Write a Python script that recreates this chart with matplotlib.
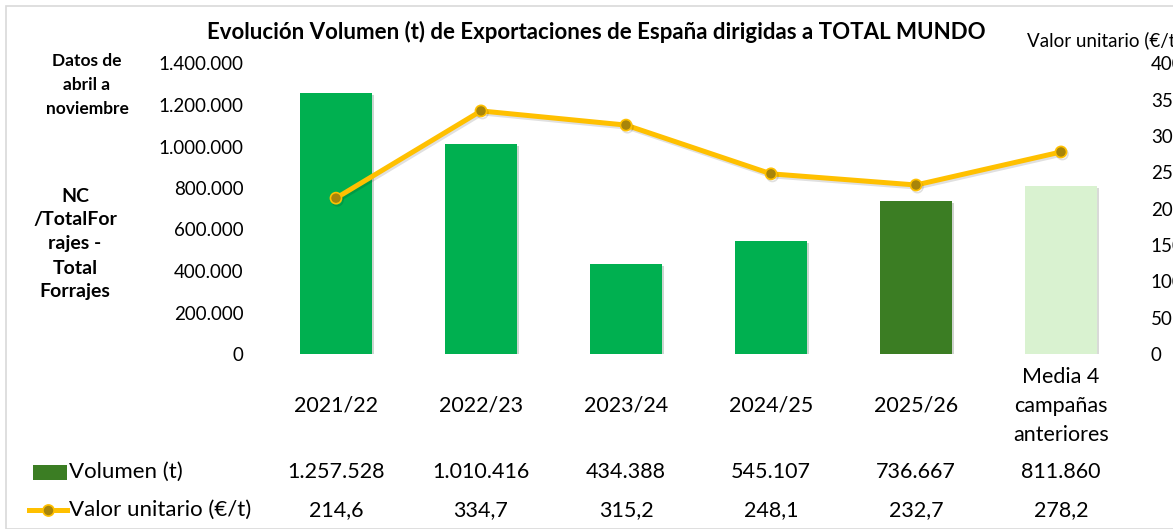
import matplotlib.pyplot as plt
import matplotlib.patheffects as pe
from matplotlib import transforms
from matplotlib.patches import Rectangle
from matplotlib.lines import Line2D
from matplotlib.ticker import FuncFormatter, MultipleLocator

plt.rcParams['font.family'] = ['Lato', 'DejaVu Sans']

categories = ["2021/22", "2022/23", "2023/24", "2024/25", "2025/26",
              "Media 4\ncampañas\nanteriores"]
volumen = [1257528, 1010416, 434388, 545107, 736667, 811860]
valor = [214.6, 334.7, 315.2, 248.1, 232.7, 278.2]

bar_colors = ["#00B050", "#00B050", "#00B050", "#00B050", "#3B7D23", "#D9F2D0"]
line_color = "#FFC000"
marker_color = "#A8850A"


def miles(v):
    return f"{int(v):,}".replace(",", ".")


def decimal(v):
    return f"{v:.1f}".replace(".", ",")


W, H = 1173, 529
fig = plt.figure(figsize=(W / 100, H / 100), dpi=100)

# light frame of the chart object
fig.patches.append(Rectangle((6 / W, 0), 1.2, 1 - 6 / H, transform=fig.transFigure,
                             fill=False, edgecolor="#D9D9D9", linewidth=1.2))

ax = fig.add_axes([263.5 / W, 1 - 354 / H, 870 / W, 290.5 / H])
x = list(range(len(categories)))
bars = ax.bar(x, volumen, width=0.5, color=bar_colors, zorder=2)
for b in bars:
    b.set_path_effects([pe.SimplePatchShadow(offset=(1.5, -1.5), alpha=0.2), pe.Normal()])
ax.set_xlim(-0.5, len(categories) - 0.5)
ax.set_ylim(0, 1400000)
ax.yaxis.set_major_locator(MultipleLocator(200000))
ax.yaxis.set_major_formatter(FuncFormatter(lambda v, p: miles(v)))
ax.tick_params(axis='y', length=0, pad=14.5, labelsize=13.5)
ax.set_xticks([])
for s in ax.spines.values():
    s.set_visible(False)

ax2 = ax.twinx()
ax2.plot(x, valor, color=line_color, linewidth=3.6, marker='o', markersize=8,
         markerfacecolor=marker_color, markeredgecolor=line_color, markeredgewidth=1.2,
         zorder=3, path_effects=[pe.SimpleLineShadow(offset=(1, -1.5), alpha=0.12), pe.Normal()])
ax2.set_ylim(0, 400)
ax2.yaxis.set_major_locator(MultipleLocator(50))
ax2.tick_params(axis='y', length=0, pad=12.5, labelsize=13.5)
for s in ax2.spines.values():
    s.set_visible(False)


def fy(ypx):
    return 1 - ypx / H


# title and side texts
fig.text(596 / W, fy(32), "Evolución Volumen (t) de Exportaciones de España dirigidas a TOTAL MUNDO",
         ha='center', va='center', fontsize=16, fontweight='bold')
fig.text(1027 / W, fy(40), "Valor unitario (€/t)", ha='left', va='center', fontsize=13.5)
fig.text(87 / W, fy(85), "Datos de\nabril a\nnoviembre", ha='center', va='center',
         fontsize=12.5, fontweight='bold', linespacing=1.6)
fig.text(75 / W, fy(244), "NC\n/TotalFor\nrajes -\nTotal\nForrajes", ha='center', va='center',
         fontsize=14, fontweight='bold', linespacing=1.5)

# data table under the chart
tr = transforms.blended_transform_factory(ax.transData, fig.transFigure)
for i, cat in enumerate(categories):
    ax.text(i, fy(406), cat, transform=tr, ha='center', va='center', fontsize=15.5,
            linespacing=1.55)
    ax.text(i, fy(472), miles(volumen[i]), transform=tr, ha='center', va='center', fontsize=15.5)
    ax.text(i, fy(510), decimal(valor[i]), transform=tr, ha='center', va='center', fontsize=15.5)

fig.patches.append(Rectangle((33 / W, fy(480)), 34 / W, 15 / H, transform=fig.transFigure,
                             facecolor="#3B7D23", edgecolor="none"))
fig.text(69 / W, fy(472), "Volumen (t)", ha='left', va='center', fontsize=16)
fig.lines.append(Line2D([29 / W, 67 / W], [fy(510), fy(510)], transform=fig.transFigure,
                        color=line_color, linewidth=3.6))
fig.lines.append(Line2D([48 / W], [fy(510)], transform=fig.transFigure, marker='o',
                        markersize=8, markerfacecolor=marker_color, markeredgecolor=line_color,
                        markeredgewidth=1.2))
fig.text(69 / W, fy(510), "Valor unitario (€/t)", ha='left', va='center', fontsize=16)

fig.savefig("out.png", dpi=100)
